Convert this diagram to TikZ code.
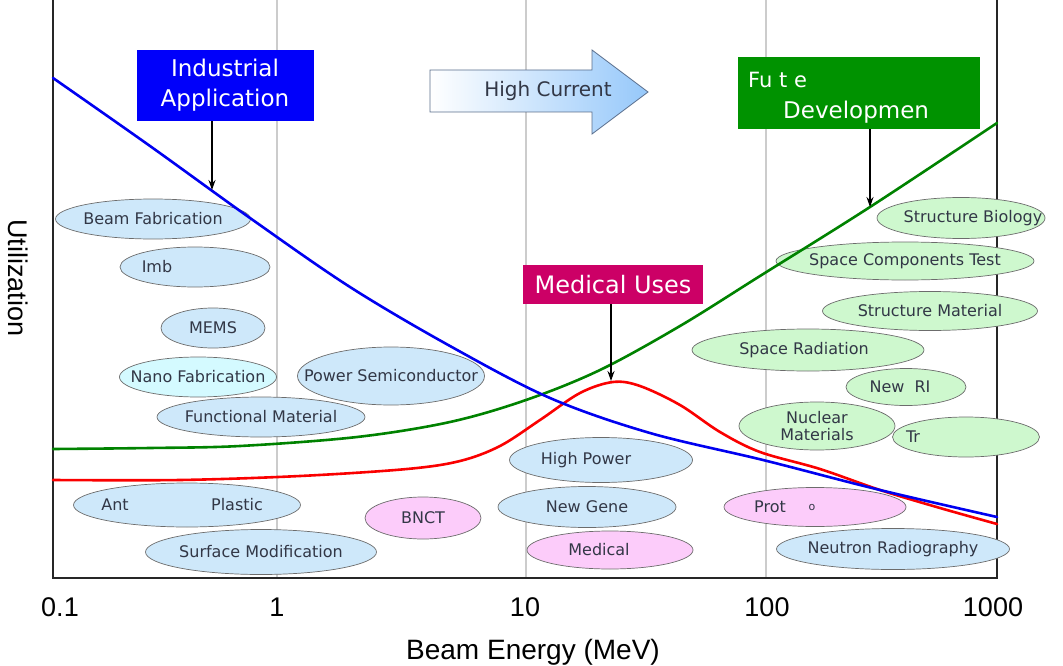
\documentclass[tikz,border=0pt]{standalone}
\usepackage{fontspec}
\setmainfont{DejaVu Sans}
\newfontfamily\axisfont{Liberation Sans}
\usetikzlibrary{arrows.meta,shapes.geometric}
\definecolor{eblue}{RGB}{206,232,250}
\definecolor{ecyan}{RGB}{212,250,255}
\definecolor{epink}{RGB}{252,204,250}
\definecolor{egreen}{RGB}{206,248,206}
\definecolor{indblue}{RGB}{0,0,250}
\definecolor{futgreen}{RGB}{0,146,0}
\definecolor{medmag}{RGB}{204,0,102}
\definecolor{arrowblue}{RGB}{150,200,250}
\definecolor{cblue}{RGB}{0,0,240}
\definecolor{cgreen}{RGB}{0,130,0}
\definecolor{cred}{RGB}{250,0,0}
\definecolor{etext}{RGB}{50,55,70}
\begin{document}
\begin{tikzpicture}[x=1pt,y=-1pt,
  font=\fontsize{16}{18}\selectfont,
  blob/.style={ellipse, draw=gray!85!black, line width=0.7pt, inner sep=0pt},
  every label/.style={text=etext},
  bl/.style={blob, fill=eblue},
  cy/.style={blob, fill=ecyan},
  pk/.style={blob, fill=epink},
  gr/.style={blob, fill=egreen},
  sz/.style 2 args={minimum width=#1pt, minimum height=#2pt},
  curve/.style={line width=2.6pt, line join=round, line cap=round},
  arr/.style={-{Stealth[length=10pt,width=7pt]}, line width=1.2pt, black},
  gridline/.style={draw=gray!40, line width=1.5pt},
  frameline/.style={line width=2pt, black!85},
  boxnode/.style={rectangle, inner sep=0pt, text=white},
  axislabel/.style={font=\axisfont\fontsize{27}{30}\selectfont}]
\useasboundingbox (0,0) rectangle (1063,666);

% grid and frame
\draw[gridline] (277,0) -- (277,578);
\draw[gridline] (526,0) -- (526,578);
\draw[gridline] (766,0) -- (766,578);
\draw[frameline] (53,0) -- (53,578) -- (997,578) -- (997,0);

% ellipses
\node[bl, sz={195}{40}, label=center:{Beam Fabrication}] (bf) at (153,219) {};
\node[bl, sz={150}{40}, label={[xshift=-38pt]center:Imb}] (imb) at (195,267) {};
\node[bl, sz={104}{40}, label=center:{MEMS}] (mems) at (213,328) {};
\node[cy, sz={157}{40}, label=center:{Nano Fabrication}] (nano) at (198,377) {};
\node[bl, sz={187}{58}, label=center:{Power Semiconductor}] (psc) at (391,376) {};
\node[bl, sz={208}{40}, label=center:{Functional Material}] (fm) at (261,417) {};
\node[bl, sz={227}{44}, label={[xshift=-72pt]center:Ant}, label={[xshift=50pt]center:Plastic}] (ant) at (187,505) {};
\node[bl, sz={231}{45}, label=center:{Surface Modification}] (sm) at (261,552) {};
\node[pk, sz={116}{42}, label=center:{BNCT}] (bnct) at (423,518) {};
\node[bl, sz={183}{45}, label={[xshift=-15pt]center:High Power}] (hp) at (601,460) {};
\node[bl, sz={178}{41}, label=center:{New Gene}] (ng) at (587,507) {};
\node[pk, sz={166}{38}, label={[xshift=-11pt]center:Medical}] (med) at (610,550) {};
\node[pk, sz={182}{39}, label={[xshift=-45pt]center:Prot}, label={[xshift=-3pt]center:{\fontsize{11}{12}\selectfont o}}] (prot) at (815,507) {};
\node[bl, sz={233}{41}, label=center:{Neutron Radiography}] (nr) at (893,549) {};
\node[gr, sz={168}{41}, label={[xshift=12pt]center:Structure Biology}] (sb) at (961,218) {};
\node[gr, sz={258}{38}, label=center:{Space Components Test}] (sct) at (905,261) {};
\node[gr, sz={215}{39}, label=center:{Structure Material}] (smat) at (930,311) {};
\node[gr, sz={232}{42}, label={[xshift=-4pt]center:Space Radiation}] (sr) at (808,350) {};
\node[gr, sz={120}{37}, label={[xshift=-6pt]center:New\ \ RI}] (nri) at (906,387) {};
\node[gr, sz={156}{48}, label={[align=center, font=\fontsize{16}{17}\selectfont]center:Nuclear\\Materials}] (nm) at (817,426) {};
\node[gr, sz={147}{40}, label={[xshift=-53pt]center:Tr}] (tr) at (966,437) {};

% curves
\draw[curve, cgreen] plot[smooth, tension=0.55] coordinates {(53,449) (150,448) (240,446) (357,437) (450,422) (526,400) (600,370) (680,326) (760,276) (870,207) (997,123)};
\draw[curve, cred] plot[smooth, tension=0.55] coordinates {(53,480) (180,480) (300,476) (407,469) (460,461) (500,446) (540,420) (580,393) (613,382) (640,386) (680,405) (720,432) (760,452) (820,469) (880,490) (940,508) (997,524)};
\draw[curve, cblue] plot[smooth, tension=0.55] coordinates {(53,78) (150,146) (250,218) (350,287) (450,346) (550,398) (650,433) (763,460) (880,490) (997,517)};

% header boxes
\node[boxnode, fill=indblue, minimum width=177pt, minimum height=71pt, align=center, font=\fontsize{23}{30}\selectfont] (ia) at (225,85.5) {Industrial\\Application};
\node[boxnode, fill=futgreen, minimum width=242pt, minimum height=72pt] (fd) at (859,93) {};
\node[boxnode, anchor=west, font=\fontsize{21}{24}\selectfont] (fdl1) at (748,80) {Fu t e};
\node[boxnode, anchor=west, font=\fontsize{23}{26}\selectfont] (fdl2) at (783,112) {Developmen};
\node[boxnode, fill=medmag, minimum width=180pt, minimum height=39pt, font=\fontsize{24}{26}\selectfont] (mu) at (613,284.5) {Medical Uses};

% high current arrow
\path[draw={rgb,255:red,90;green,110;blue,140}, line width=0.8pt, left color=white, right color=arrowblue]
  (430,70) -- (592,70) -- (592,50) -- (648,92) -- (592,134) -- (592,112) -- (430,112) -- cycle;
\node[font=\fontsize{20}{22}\selectfont, text=etext] (hc) at (548,91) {High Current};

% pointer arrows
\coordinate (iatip) at (212,190);
\coordinate (fdtip) at (870,207);
\coordinate (mutip) at (611,381);
\draw[arr] (ia.south -| iatip) -- (iatip);
\draw[arr] (fd.south -| fdtip) -- (fdtip);
\draw[arr] (mu.south -| mutip) -- (mutip);

% axis labels
\node[axislabel] (t01) at (60,607) {0.1};
\node[axislabel] (t1) at (277,607) {1};
\node[axislabel] (t10) at (525,607) {10};
\node[axislabel] (t100) at (767,607) {100};
\node[axislabel] (t1000) at (993,607) {1000};
\node[font=\axisfont\fontsize{28}{30}\selectfont] (xl) at (533,652) {Beam Energy (MeV)};
\node[font=\axisfont\fontsize{27}{30}\selectfont, rotate=-90] (yl) at (18,278) {Utilization};
\end{tikzpicture}
\end{document}
